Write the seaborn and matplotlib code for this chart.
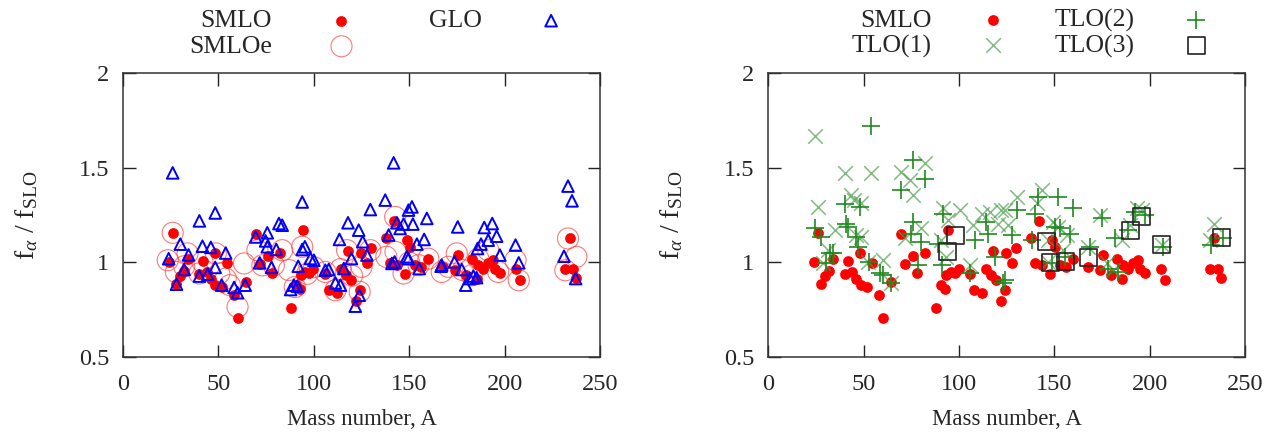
import numpy as np
import matplotlib
matplotlib.use("Agg")
import matplotlib.pyplot as plt
import seaborn as sns

# ---------------- data ----------------
smlo_A = [24, 26, 27.8, 30, 32, 34, 40, 42, 44, 46, 48, 48.4, 52, 54.4, 58, 60, 64.5,
          69.7, 71.8, 75.9, 78, 82, 88, 90.4, 92.5, 93.3, 94.2, 95.6, 97.7, 99.8, 106,
          108, 112, 114, 116.6, 117.8, 119.6, 122, 124, 124.5, 127.6, 130, 138, 140, 142,
          143.4, 147.7, 148.6, 150.3, 153, 156, 160, 167.8, 174, 175.7, 180, 182.7,
          185.3, 186.2, 188.8, 191.4, 194, 195, 197.5, 206, 208, 231.6, 234, 235.8, 237.6]
smlo_f = [1.003, 1.157, 0.885, 0.93, 0.956, 1.016, 0.94, 1.01, 0.95, 0.915, 1.05, 0.88,
          0.868, 0.995, 0.83, 0.707, 0.897, 1.15, 0.99, 1.033, 0.947, 1.05, 0.76, 0.88,
          0.862, 0.933, 1.17, 0.95, 0.942, 0.968, 0.938, 0.853, 0.836, 0.963, 0.933, 1.06,
          0.906, 0.797, 0.853, 1.05, 0.995, 1.074, 1.127, 0.995, 1.22, 0.986, 0.938, 1.118,
          1.083, 0.986, 0.977, 1.02, 0.974, 0.96, 1.04, 0.933, 1.02, 0.915, 0.986, 0.968,
          0.995, 1.012, 0.968, 0.942, 0.968, 0.906, 0.963, 1.127, 0.963, 0.92]

smloe_A = [23.4, 26, 27.7, 32, 33.8, 40, 41.6, 48.6, 50.4, 53.8, 56, 60, 63.4, 70.4, 73,
           79, 83.4, 86.9, 90, 93.9, 96.5, 100, 106, 111.3, 114, 117.4, 120, 124, 125,
           129.6, 138, 142.6, 142.8, 147, 150, 154.9, 160, 167, 170.5, 174.9, 178, 182.7,
           186.2, 191.4, 196.6, 205.7, 207.4, 231.8, 233.2, 237.6]
smloe_f = [1.012, 1.157, 0.95, 0.98, 1.048, 0.942, 1.003, 1.048, 0.942, 0.915, 0.88, 0.765,
           0.995, 1.065, 0.985, 0.985, 1.065, 0.96, 0.87, 1.083, 0.94, 0.975, 0.95, 0.853,
           0.965, 1.065, 0.93, 0.845, 0.977, 1.065, 1.03, 1.241, 1.056, 0.942, 1.0, 0.986,
           1.02, 0.95, 0.977, 1.048, 0.96, 0.933, 1.02, 1.065, 0.95, 1.012, 0.906, 0.959,
           1.127, 1.03]

glo_A = [26, 40, 48.3, 81.7, 69.5, 75.6, 74.7, 80.3, 75.6, 30, 41.6, 46, 53.8, 23.9, 34.3,
         48.3, 32, 40, 44.3, 28, 51.7, 58.2, 60, 64, 71.6, 77.8,
         141.8, 93.9, 129.6, 137.4, 149.6, 151.4, 159.2, 117.9, 123.5, 143.5, 147, 151.9,
         145.2, 113.4, 125.6, 139.2, 157.8, 154, 95.3, 93.9, 83.4, 127.8, 119.7, 98.2, 100,
         142.3, 148.7, 149.6, 140.9, 91.8, 106, 107.8, 115.7, 155.2, 166.7, 111.3, 113.9,
         89.5, 91.3, 87.8, 123.8, 121.7,
         233.2, 235.3, 175.4, 189.3, 193.5, 195.8, 191.4, 187.6, 185.8, 205.7, 197.5, 207.4,
         231.1, 167, 173.7, 177.5, 183.6, 185.3, 181.8, 179.6, 237.2]
glo_f = [1.474, 1.22, 1.262, 1.206, 1.135, 1.157, 1.114, 1.069, 1.083, 1.097, 1.086, 1.08,
         1.05, 1.02, 1.04, 0.974, 0.963, 0.928, 0.938, 0.885, 0.88, 0.868, 0.84, 0.88, 0.998,
         0.974,
         1.527, 1.32, 1.28, 1.33, 1.277, 1.294, 1.233, 1.21, 1.171, 1.21, 1.203, 1.203, 1.18,
         1.122, 1.11, 1.145, 1.122, 1.097, 1.083, 1.069, 1.197, 1.039, 1.021, 1.021, 1.012,
         1.003, 1.03, 1.02, 0.995, 0.98, 0.959, 0.963, 0.968, 0.968, 0.98, 0.892, 0.88, 0.88,
         0.875, 0.857, 0.827, 0.769,
         1.404, 1.326, 1.188, 1.185, 1.206, 1.139, 1.118, 1.097, 1.074, 1.092, 1.039, 0.998,
         1.033, 0.986, 1.003, 0.963, 0.928, 0.92, 0.915, 0.88, 0.915]

tlo1_A = [24.3, 40, 54, 69.7, 82, 74.1, 75.9, 43.5, 48.8, 26, 45, 34.8, 46, 48.8, 31.3,
          28.7, 52.3, 60, 64.5, 71.5, 80.2, 91.6, 100.4, 94.2, 90.7, 93.3, 105.6, 111.9,
          116.3, 107.3, 122.2, 120.5, 130.3, 143.4, 140.7, 124.1, 125.9, 149.5, 152, 156.5,
          146.8, 154.7, 167.8, 173.9, 185.3, 189.7, 193.2, 195.8, 206.3, 180.9, 177.5, 234,
          231.6, 146.8]
tlo1_f = [1.668, 1.471, 1.471, 1.479, 1.524, 1.435, 1.356, 1.356, 1.312, 1.291, 1.33, 1.171,
          1.144, 1.136, 1.065, 0.995, 1.003, 1.012, 0.889, 1.127, 1.18, 1.286, 1.277, 1.224,
          1.118, 1.03, 0.986, 1.259, 1.268, 1.197, 1.277, 1.206, 1.347, 1.383, 1.312, 1.277,
          1.197, 1.215, 1.188, 1.144, 1.118, 1.065, 1.083, 1.25, 1.118, 1.197, 1.286, 1.277,
          1.092, 0.959, 0.995, 1.206, 1.118, 1.003]

tlo2_A = [54, 75.9, 82, 69.7, 40, 48, 24.3, 27.5, 41, 41.8, 46, 47, 32.2, 34, 30.4, 53,
          58.6, 60, 64.2, 75.1, 75.9, 80.2, 78.6, 91.6, 89, 90.9, 108.4, 105.6, 114.3, 115.2,
          123.2, 118.9, 130.3, 141.3, 151.8, 160, 139.8, 127.6, 124, 138.1, 150.3, 153, 158,
          155.6, 148.6, 168.7, 174.8, 181.8, 178.3, 183.5, 188.8, 192.3, 197.5, 207.1, 232.4,
          238.3]
tlo2_f = [1.721, 1.541, 1.444, 1.383, 1.308, 1.294, 1.185, 1.136, 1.206, 1.188, 1.136, 1.083,
          1.048, 1.048, 0.995, 1.003, 0.942, 0.933, 0.892, 1.153, 1.215, 1.109, 0.986, 1.259,
          1.1, 0.986, 1.118, 0.942, 1.215, 1.153, 0.889, 1.03, 1.277, 1.347, 1.344, 1.286,
          1.259, 1.144, 0.906, 1.118, 1.188, 1.18, 1.153, 1.03, 0.995, 1.083, 1.233, 1.127,
          0.968, 0.95, 1.171, 1.268, 1.25, 1.083, 1.092, 1.132]

tlo3_A = [98, 94.2, 146, 148, 156, 168, 190.2, 195.8, 206, 237.7]
tlo3_f = [1.144, 1.056, 1.109, 0.998, 1.003, 1.025, 1.171, 1.241, 1.095, 1.132]

x_ticks = [0, 50, 100, 150, 200, 250]
y_ticks = [0.5, 1, 1.5, 2]
y_tick_labels = ["0.5", "1", "1.5", "2"]

# ---------------- style ----------------
sns.set_style("ticks")
plt.rcParams["font.family"] = ["Liberation Serif", "DejaVu Serif"]
plt.rcParams["mathtext.fontset"] = "custom"
plt.rcParams["mathtext.rm"] = "Liberation Serif"
plt.rcParams["mathtext.it"] = "Liberation Serif:italic"

fig = plt.figure(figsize=(12.86, 4.37), dpi=100)
axL = fig.add_axes([0.0957, 0.183, 0.3709, 0.649])
axR = fig.add_axes([0.5974, 0.183, 0.3707, 0.649])

green_plus = "#1f8a1f"
green_x = "#4a9e4a"

# left panel
sns.scatterplot(x=smlo_A, y=smlo_f, ax=axL, marker="o", color="red", s=60,
                linewidth=0, label="SMLO", zorder=3)
sns.scatterplot(x=smloe_A, y=smloe_f, ax=axL, marker="o", color="red", facecolor="none",
                edgecolor="#ff4040", s=230, linewidth=0.8, alpha=0.7, label="SMLOe", zorder=2)
sns.scatterplot(x=smloe_A, y=smloe_f, ax=axL, marker=".", color="red", s=2,
                linewidth=0, legend=False, zorder=2)
sns.scatterplot(x=glo_A, y=glo_f, ax=axL, marker="^", color="blue", facecolor="none",
                edgecolor="blue", s=70, linewidth=1.4, label="GLO", zorder=4)

# right panel
sns.scatterplot(x=smlo_A, y=smlo_f, ax=axR, marker="o", color="red", s=60,
                linewidth=0, label="SMLO", zorder=2)
sns.scatterplot(x=tlo1_A, y=tlo1_f, ax=axR, marker="x", color=green_x, s=110,
                linewidth=1.1, alpha=0.7, label="TLO(1)", zorder=3)
sns.scatterplot(x=tlo2_A, y=tlo2_f, ax=axR, marker="+", color=green_plus, s=170,
                linewidth=1.2, label="TLO(2)", zorder=3)
sns.scatterplot(x=tlo3_A, y=tlo3_f, ax=axR, marker="s", color="black", facecolor="none",
                edgecolor="#222222", s=150, linewidth=1.2, label="TLO(3)", zorder=4)

for ax in (axL, axR):
    ax.set_xlim(0, 250)
    ax.set_ylim(0.5, 2)
    ax.set_xticks(x_ticks)
    ax.set_yticks(y_ticks)
    ax.set_yticklabels(y_tick_labels)
    ax.tick_params(direction="in", length=9, width=1, top=True, right=True,
                   labelsize=17.5, color="#222222")
    ax.tick_params(axis="x", pad=12)
    ax.tick_params(axis="y", pad=10)
    for sp in ax.spines.values():
        sp.set_visible(True)
        sp.set_linewidth(1.1)
        sp.set_color("#333333")
    ax.set_xlabel("Mass number, A", fontsize=16.5, labelpad=10)
    ax.set_ylabel(r"$\mathrm{f}_{\alpha}$ / $\mathrm{f}_{\mathrm{SLO}}$", fontsize=20,
                  labelpad=28)

legL = axL.legend(loc="lower center", bbox_to_anchor=(0.545, 1.0), ncol=2, frameon=False,
                  markerfirst=False, fontsize=18.5, columnspacing=2.4, handletextpad=1.7,
                  labelspacing=0.1, borderaxespad=0.2)
legR = axR.legend(loc="lower center", bbox_to_anchor=(0.563, 1.0), ncol=2, frameon=False,
                  markerfirst=False, fontsize=18.5, columnspacing=1.4, handletextpad=1.4,
                  labelspacing=0.1, borderaxespad=0.2)

fig.savefig("out.png", dpi=100)
